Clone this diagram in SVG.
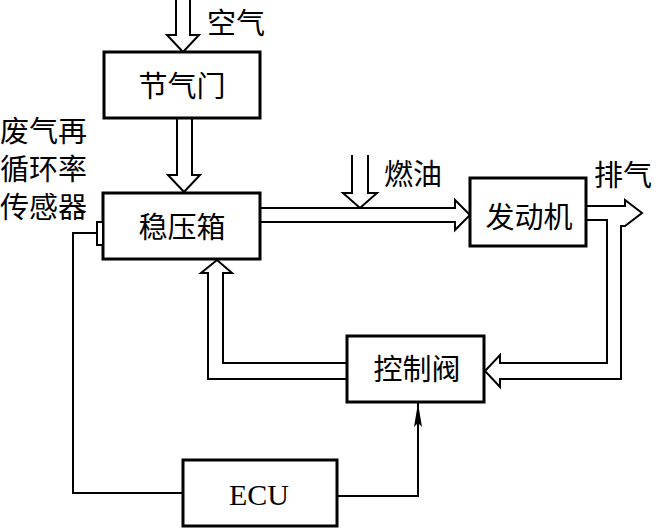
<svg xmlns="http://www.w3.org/2000/svg" width="656" height="528" viewBox="0 0 656 528">
<style>
.box{fill:#fff;stroke:#000;stroke-width:3}
.flow{fill:#fff;stroke:#000;stroke-width:2;stroke-linejoin:miter}
.wire{fill:none;stroke:#000;stroke-width:2}
.cn{font-family:"Noto Sans CJK SC","Noto Sans CJK JP",sans-serif;font-size:29px;fill:#000}
.lat{font-family:"Liberation Serif",serif;font-size:30px;fill:#000}
</style>
<defs>
<marker id="ah" viewBox="0 0 24 8" refX="24" refY="4" markerWidth="24" markerHeight="8" markerUnits="userSpaceOnUse" orient="auto">
<path d="M24,4 L0,0 L4,4 L0,8 Z" fill="#000"/>
</marker>
</defs>
<g id="connectors">
<path class="flow" d="M176,0 V35 H167 L183,52 L199,35 H190 V0"/>
<path class="flow" d="M177,119 V175 H168 L184,192 L200,175 H192 V119"/>
<path class="flow" d="M261,208 H455 V200 L470,215 L455,230 V222 H261"/>
<path class="flow" d="M352,155 V193 H343 L360,208 L377,193 H368 V155"/>
<path class="flow" d="M587,206 H625 V200 L642,213 L625,226 H621 V379 H500 V387 L485,371 L500,355 V363 H607 V220 H587"/>
<path class="flow" d="M346,363 H223 V273 H232 L217,260 L201,273 H208 V379 H346"/>
<path class="wire" d="M97,233 H73 V493 H183"/>
<path class="wire" d="M337,496 H418 V403" marker-end="url(#ah)"/>
</g>
<g id="throttle">
<rect class="box" x="104" y="52" width="156" height="66"/>
<text class="cn" x="182" y="97" text-anchor="middle">节气门</text>
</g>
<g id="surge-tank">
<rect class="box" x="103" y="193" width="157" height="66"/>
<text class="cn" x="182" y="238" text-anchor="middle">稳压箱</text>
</g>
<g id="sensor">
<rect x="97" y="222" width="6" height="23" fill="#fff" stroke="#000" stroke-width="2"/>
</g>
<g id="engine">
<rect class="box" x="470" y="178" width="116" height="68"/>
<text class="cn" x="529" y="228" text-anchor="middle">发动机</text>
</g>
<g id="control-valve">
<rect class="box" x="347" y="336" width="137" height="66"/>
<text class="cn" x="417" y="380" text-anchor="middle">控制阀</text>
</g>
<g id="ecu">
<rect class="box" x="183" y="460" width="154" height="66"/>
<text class="lat" x="259" y="505" text-anchor="middle">ECU</text>
</g>
<g id="labels">
<text class="cn" x="207" y="34">空气</text>
<text class="cn" x="384" y="185">燃油</text>
<text class="cn" x="594" y="186">排气</text>
<text class="cn" x="0" y="142">废气再</text>
<text class="cn" x="0" y="180">循环率</text>
<text class="cn" x="0" y="218">传感器</text>
</g>
</svg>
